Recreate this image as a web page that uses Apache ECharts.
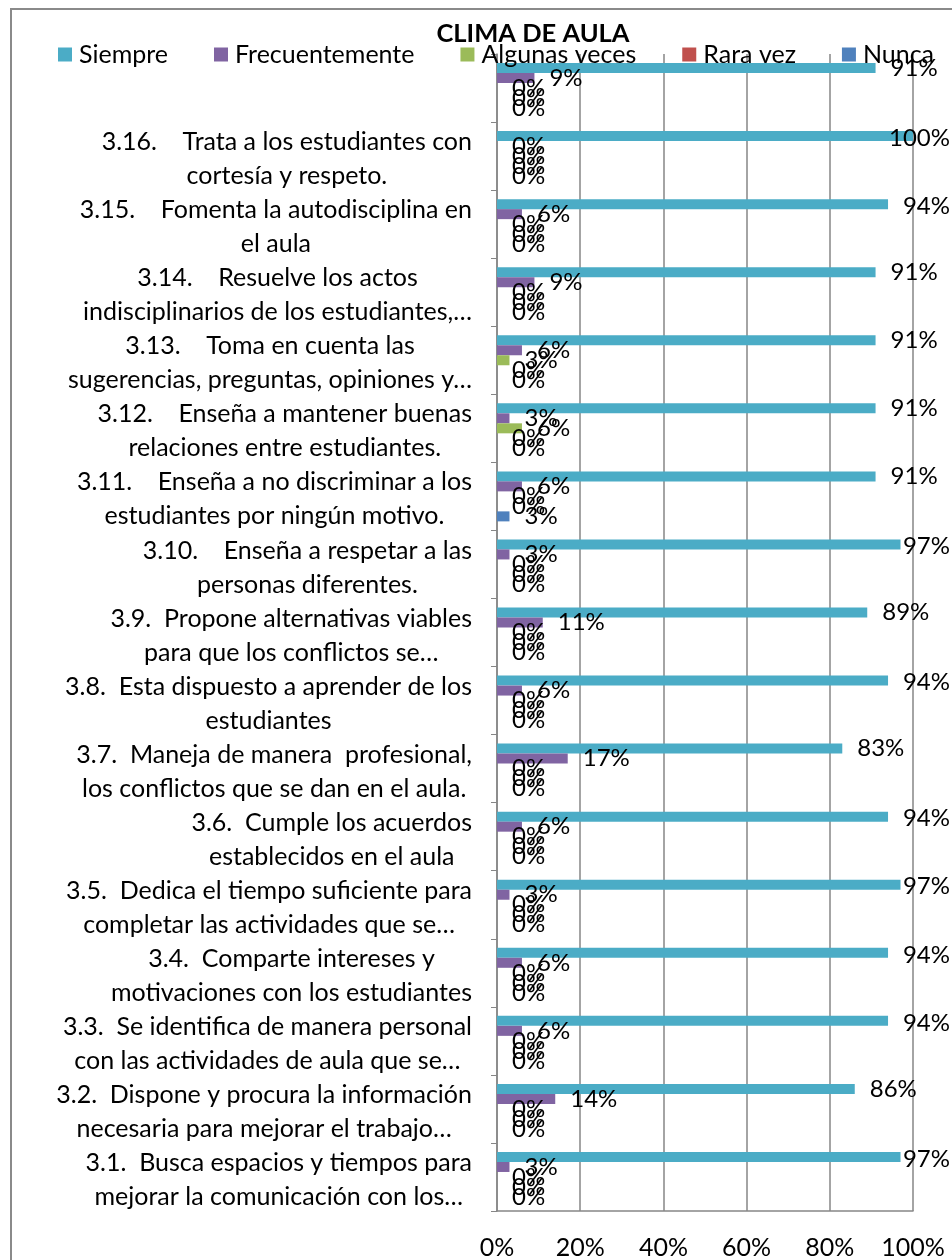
<!DOCTYPE html>
<html>
<head>
<meta charset="utf-8">
<script src="https://cdn.jsdelivr.net/npm/echarts@6/dist/echarts.min.js"></script>
<style>
html,body{margin:0;padding:0;background:#fff;}
#chart{width:952px;height:1260px;}
</style>
</head>
<body>
<div id="chart"></div>
<script>
const titleText = 'CLIMA DE AULA';
const seriesNames = ['Siempre', 'Frecuentemente', 'Algunas veces', 'Rara vez', 'Nunca'];
const seriesColors = ['#4BACC6', '#8064A2', '#9BBB59', '#C0504D', '#4F81BD'];
// categories from bottom (3.1) to top (3.17, label not visible)
const categories = [
  '3.1.  Busca espacios y tiempos para\nmejorar la comunicación con los…',
  '3.2.  Dispone y procura la información\nnecesaria para mejorar el trabajo…',
  '3.3.  Se identifica de manera personal\ncon las actividades de aula que se…',
  '3.4.  Comparte intereses y\nmotivaciones con los estudiantes',
  '3.5.  Dedica el tiempo suficiente para\ncompletar las actividades que se…',
  '3.6.  Cumple los acuerdos\nestablecidos en el aula',
  '3.7.  Maneja de manera  profesional,\nlos conflictos que se dan en el aula.',
  '3.8.  Esta dispuesto a aprender de los\nestudiantes',
  '3.9.  Propone alternativas viables\npara que los conflictos se…',
  '3.10.    Enseña a respetar a las\npersonas diferentes.',
  '3.11.    Enseña a no discriminar a los\nestudiantes por ningún motivo.',
  '3.12.    Enseña a mantener buenas\nrelaciones entre estudiantes.',
  '3.13.    Toma en cuenta las\nsugerencias, preguntas, opiniones y…',
  '3.14.    Resuelve los actos\nindisciplinarios de los estudiantes,…',
  '3.15.    Fomenta la autodisciplina en\nel aula',
  '3.16.    Trata a los estudiantes con\ncortesía y respeto.',
  ''
];
const siempre        = [97, 86, 94, 94, 97, 94, 83, 94, 89, 97, 91, 91, 91, 91, 94, 100, 91];
const frecuentemente = [3, 14, 6, 6, 3, 6, 17, 6, 11, 3, 6, 3, 6, 9, 6, 0, 9];
const algunasVeces   = [0, 0, 0, 0, 0, 0, 0, 0, 0, 0, 0, 6, 3, 0, 0, 0, 0];
const raraVez        = [0, 0, 0, 0, 0, 0, 0, 0, 0, 0, 0, 0, 0, 0, 0, 0, 0];
const nunca          = [0, 0, 0, 0, 0, 0, 0, 0, 0, 0, 3, 0, 0, 0, 0, 0, 0];
const xTicks = [0, 20, 40, 60, 80, 100];

const seriesData = [siempre, frecuentemente, algunasVeces, raraVez, nunca];
const FONT = 'Lato';
const FS = 25;

const chart = echarts.init(document.getElementById('chart'), null, {renderer: 'canvas'});

const series = seriesNames.map((name, i) => ({
  name: name,
  type: 'bar',
  data: seriesData[i],
  barWidth: 10,
  barGap: '0%',
  itemStyle: {color: seriesColors[i]},
  label: {
    show: true,
    position: 'right',
    distance: 15,
    offset: [0, 2],
    formatter: '{c}%',
    color: '#000',
    fontFamily: FONT,
    fontSize: 24
  },
  labelLayout: function (p) {
    const r = p.labelRect;
    if (r.x + r.width > 950) {
      return {x: 950, y: r.y + r.height / 2, align: 'right', verticalAlign: 'middle'};
    }
  }
}));

chart.setOption({
  backgroundColor: '#fff',
  animation: false,
  title: {
    text: titleText,
    left: 533,
    top: 21,
    padding: 0,
    textAlign: 'center',
    textStyle: {fontFamily: FONT, fontSize: 25.5, fontWeight: 'bold', color: '#000'}
  },
  legend: {
    data: seriesNames,
    left: 58,
    top: 42,
    padding: 0,
    icon: 'path://M0,0L10,0L10,10L0,10Z',
    itemWidth: 14,
    itemHeight: 14,
    itemGap: 46,
    itemStyle: {borderWidth: 0},
    textStyle: {fontFamily: FONT, fontSize: FS, color: '#000', padding: [0, 0, 0, 2]}
  },
  grid: {left: 497, right: 39, top: 54, bottom: 48, containLabel: false},
  xAxis: {
    type: 'value',
    min: 0,
    max: 100,
    interval: 20,
    axisLine: {show: true, lineStyle: {color: '#868686', width: 1.5}},
    axisTick: {show: false},
    axisLabel: {
      margin: 24,
      color: '#000',
      fontFamily: FONT,
      fontSize: FS,
      formatter: function (v) { return xTicks.indexOf(v) >= 0 ? v + '%' : ''; }
    },
    splitLine: {show: true, lineStyle: {color: '#868686', width: 1.5}}
  },
  yAxis: {
    type: 'category',
    data: categories,
    axisLine: {show: true, lineStyle: {color: '#868686', width: 1.5}},
    axisTick: {show: true, length: 6, inside: false, lineStyle: {color: '#868686'}},
    axisLabel: {
      interval: 0,
      hideOverlap: false,
      margin: 25,
      color: '#000',
      fontFamily: FONT,
      fontSize: FS,
      lineHeight: 34,
      padding: [6, 0, 0, 0],
      formatter: function (v) {
        if (!v) return '';
        return v.split('\n').map(s => '{c|' + s + '}').join('\n');
      },
      rich: {c: {align: 'center', fontFamily: FONT, fontSize: FS, lineHeight: 34, color: '#000'}}
    }
  },
  series: series,
  graphic: [{
    type: 'rect',
    shape: {x: 11, y: 9, width: 1000, height: 1300},
    style: {fill: 'none', stroke: '#8a8a8a', lineWidth: 2},
    silent: true,
    z: -1
  }]
});
</script>
</body>
</html>
